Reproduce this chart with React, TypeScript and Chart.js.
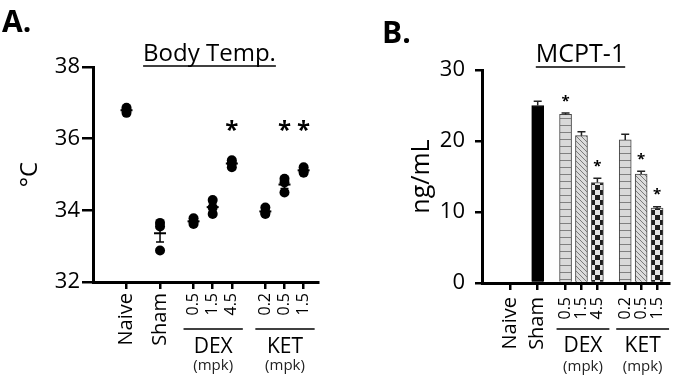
import React, { useEffect, useRef } from 'react';
import { Chart, registerables } from 'chart.js';

Chart.register(...registerables);

const FONT = "'Open Sans', 'Noto Sans', sans-serif";

// ---- categories ----
const categories = ['Naive', 'Sham', '0.5', '1.5', '4.5', '0.2', '0.5', '1.5'];
const groupIds = [0, 1, 2, 2, 2, 3, 3, 3];
const groupNames = ['', '', 'DEX', 'KET'];
const groupUnits = ['', '', '(mpk)', '(mpk)'];
const doseFlags = [false, false, true, true, true, true, true, true];

// ---- Panel A: body temperature (°C), three animals per group ----
const tempRep1 = [36.86, 33.65, 33.78, 34.29, 35.4, 34.08, 34.88, 35.2];
const tempRep2 = [36.8, 33.55, 33.68, 34.08, 35.32, 33.93, 34.78, 35.1];
const tempRep3 = [36.72, 32.88, 33.62, 33.9, 35.2, 33.9, 34.5, 35.05];
const tempSig = [false, false, false, false, true, false, true, true];
const tempTicks = [32, 34, 36, 38];
const TEMP_STAR_LEVEL = 36.4;

// ---- Panel B: MCPT-1 (ng/mL) mean and SEM ----
const mcptMean = [0, 25.0, 23.75, 20.75, 14.15, 20.15, 15.35, 10.55];
const mcptSem = [0, 0.6, 0.2, 0.55, 0.6, 0.8, 0.4, 0.2];
const mcptSig = [false, false, true, false, true, false, true, true];
const mcptTicks = [0, 10, 20, 30];

// bar fill styles (not data)
const barStyles = ['none', 'solid', 'stripe', 'diag', 'check', 'stripe', 'diag', 'check'];

// ---- slot layout on a category axis (spacer categories) ----
const LEAD = 7, STEP_IN = 4, STEP_GAP = 7, TRAIL = 3;
const slotOf: number[] = [];
{
  let pos = LEAD;
  categories.forEach((_, i) => {
    if (i > 0) pos += groupIds[i] === groupIds[i - 1] ? STEP_IN : STEP_GAP;
    slotOf.push(pos);
  });
}
const NSLOTS = slotOf[slotOf.length - 1] + TRAIL + 1;
const slotLabels: string[] = Array(NSLOTS).fill('');
slotOf.forEach((s, i) => (slotLabels[s] = categories[i]));
function pad<T>(vals: T[]): (T | null)[] {
  const arr: (T | null)[] = Array(NSLOTS).fill(null);
  slotOf.forEach((s, i) => (arr[s] = vals[i]));
  return arr;
}
function catAtSlot(idx: number) {
  return slotOf.indexOf(idx);
}

function xScaleOpts(tl: number, padding: number, height: number) {
  const col = (c: any) => (slotLabels[c.index] ? '#000' : 'rgba(0,0,0,0)');
  return {
    type: 'category',
    offset: false,
    grid: {
      offset: false,
      drawOnChartArea: false,
      drawTicks: true,
      tickLength: tl,
      lineWidth: 2.5,
      color: col,
      tickColor: col,
    },
    border: { display: true, color: '#000', width: 3 },
    ticks: {
      autoSkip: false,
      maxRotation: 90,
      minRotation: 90,
      padding,
      color: '#000',
      font: (c: any) => {
        const i = catAtSlot(c.index);
        return { family: FONT, size: i >= 0 && doseFlags[i] ? 16 : 20 };
      },
    },
    afterFit: (s: any) => {
      s.height = height;
    },
  };
}

function drawGroups(chart: any, lineDy: number, nameDy: number, unitDy: number, padL: number, padR: number) {
  const { ctx, chartArea } = chart;
  const x = chart.scales.x;
  groupNames.forEach((name, g) => {
    if (!name) return;
    const idx = categories.map((_, i) => i).filter((i) => groupIds[i] === g);
    const x0 = x.getPixelForValue(slotOf[idx[0]]) - padL;
    const x1 = x.getPixelForValue(slotOf[idx[idx.length - 1]]) + padR;
    ctx.save();
    ctx.strokeStyle = '#000';
    ctx.lineWidth = 1.5;
    ctx.beginPath();
    ctx.moveTo(x0, chartArea.bottom + lineDy);
    ctx.lineTo(x1, chartArea.bottom + lineDy);
    ctx.stroke();
    ctx.textAlign = 'center';
    ctx.textBaseline = 'alphabetic';
    ctx.fillStyle = '#000';
    ctx.font = `21px ${FONT}`;
    ctx.fillText(name, (x0 + x1) / 2, chartArea.bottom + nameDy);
    ctx.fillStyle = '#222';
    ctx.font = `15px ${FONT}`;
    ctx.fillText(groupUnits[g], (x0 + x1) / 2, chartArea.bottom + unitDy);
    ctx.restore();
  });
}

function drawTitle(ctx: CanvasRenderingContext2D, text: string, cx: number, baseline: number, size: number) {
  ctx.save();
  ctx.font = `${size}px ${FONT}`;
  ctx.fillStyle = '#000';
  ctx.textAlign = 'center';
  ctx.textBaseline = 'alphabetic';
  ctx.fillText(text, cx, baseline);
  const w = ctx.measureText(text).width;
  ctx.strokeStyle = '#000';
  ctx.lineWidth = 1.5;
  ctx.beginPath();
  ctx.moveTo(cx - w / 2, baseline + 5);
  ctx.lineTo(cx + w / 2, baseline + 5);
  ctx.stroke();
  ctx.restore();
}

function drawPanelLabel(ctx: CanvasRenderingContext2D, text: string, x: number, baseline: number) {
  ctx.save();
  ctx.font = `bold 30px ${FONT}`;
  ctx.fillStyle = '#000';
  ctx.textAlign = 'left';
  ctx.textBaseline = 'alphabetic';
  ctx.fillText(text, x, baseline);
  ctx.restore();
}

function drawStar(ctx: CanvasRenderingContext2D, cx: number, cy: number, size: number) {
  ctx.save();
  ctx.font = `bold ${size}px ${FONT}`;
  ctx.fillStyle = '#000';
  ctx.textAlign = 'center';
  ctx.textBaseline = 'alphabetic';
  ctx.fillText('*', cx, cy + 0.58 * size);
  ctx.restore();
}

const decorA = {
  id: 'decorA',
  afterDatasetsDraw(chart: any) {
    const { ctx } = chart;
    const x = chart.scales.x;
    const y = chart.scales.y;
    categories.forEach((_, i) => {
      const vals = [tempRep1[i], tempRep2[i], tempRep3[i]];
      const n = vals.length;
      const mean = vals.reduce((a, b) => a + b, 0) / n;
      const sd = Math.sqrt(vals.reduce((a, b) => a + (b - mean) * (b - mean), 0) / (n - 1));
      const sem = sd / Math.sqrt(n);
      const px = x.getPixelForValue(slotOf[i]);
      ctx.save();
      ctx.strokeStyle = '#000';
      ctx.lineWidth = 2;
      ctx.beginPath();
      ctx.moveTo(px - 6, y.getPixelForValue(mean));
      ctx.lineTo(px + 6, y.getPixelForValue(mean));
      ctx.stroke();
      ctx.lineWidth = 1.5;
      const yt = y.getPixelForValue(mean + sem);
      const yb = y.getPixelForValue(mean - sem);
      ctx.beginPath();
      ctx.moveTo(px, yt);
      ctx.lineTo(px, yb);
      ctx.moveTo(px - 4, yt);
      ctx.lineTo(px + 4, yt);
      ctx.moveTo(px - 4, yb);
      ctx.lineTo(px + 4, yb);
      ctx.stroke();
      ctx.restore();
      if (tempSig[i]) drawStar(ctx, px, y.getPixelForValue(TEMP_STAR_LEVEL), 24);
    });
  },
  afterDraw(chart: any) {
    const { ctx, chartArea } = chart;
    drawGroups(chart, 47, 71, 88, 10, 11);
    drawTitle(ctx, 'Body Temp.', (chartArea.left + chartArea.right) / 2 + 4, 61, 24);
    drawPanelLabel(ctx, 'A.', 2, 32);
  },
};

const decorB = {
  id: 'decorB',
  afterDatasetsDraw(chart: any) {
    const { ctx } = chart;
    const x = chart.scales.x;
    const y = chart.scales.y;
    categories.forEach((_, i) => {
      if (!mcptMean[i]) return;
      const px = x.getPixelForValue(slotOf[i]);
      const top = y.getPixelForValue(mcptMean[i]);
      const cap = y.getPixelForValue(mcptMean[i] + mcptSem[i]);
      ctx.save();
      ctx.strokeStyle = '#222';
      ctx.lineWidth = 1.5;
      ctx.beginPath();
      ctx.moveTo(px, top);
      ctx.lineTo(px, cap);
      ctx.moveTo(px - 4, cap);
      ctx.lineTo(px + 4, cap);
      ctx.stroke();
      ctx.restore();
      if (mcptSig[i]) drawStar(ctx, px, cap - 16, 15);
    });
  },
  afterDraw(chart: any) {
    const { ctx, chartArea } = chart;
    drawGroups(chart, 46, 69, 88, 9, 12);
    drawTitle(ctx, 'MCPT-1', (chartArea.left + chartArea.right) / 2 + 5, 62, 25);
    drawPanelLabel(ctx, 'B.', 32, 43);
  },
};

function makePattern(ctx: CanvasRenderingContext2D, kind: string): any {
  if (kind === 'solid') return '#000';
  if (kind === 'none') return 'rgba(0,0,0,0)';
  const c = document.createElement('canvas');
  const g = c.getContext('2d') as CanvasRenderingContext2D;
  if (kind === 'stripe') {
    c.width = 8;
    c.height = 7;
    g.fillStyle = '#d9d9d9';
    g.fillRect(0, 0, 8, 7);
    g.fillStyle = '#808080';
    g.fillRect(0, 6, 8, 1);
  } else if (kind === 'diag') {
    c.width = 5;
    c.height = 5;
    g.fillStyle = '#dcdcdc';
    g.fillRect(0, 0, 5, 5);
    g.strokeStyle = '#7a7a7a';
    g.lineWidth = 1;
    g.beginPath();
    for (let k = -1; k <= 1; k++) {
      g.moveTo(k * 5, 0);
      g.lineTo(k * 5 + 5, 5);
    }
    g.stroke();
  } else if (kind === 'check') {
    c.width = 10;
    c.height = 10;
    g.fillStyle = '#e6e6e6';
    g.fillRect(0, 0, 10, 10);
    g.fillStyle = '#1e1e1e';
    g.fillRect(0, 0, 5, 5);
    g.fillRect(5, 5, 5, 5);
  }
  return ctx.createPattern(c, 'repeat');
}

function configA(): any {
  const datasets = [tempRep1, tempRep2, tempRep3].map((rep, k) => ({
    label: `Animal ${k + 1}`,
    data: pad(rep),
    showLine: false,
    pointRadius: 5,
    pointHoverRadius: 5,
    pointBackgroundColor: '#000',
    pointBorderWidth: 0,
    borderColor: '#000',
    backgroundColor: '#000',
  }));
  return {
    type: 'line',
    data: { labels: slotLabels, datasets },
    options: {
      responsive: false,
      animation: false,
      layout: { padding: { top: 67, right: 32, left: 0, bottom: 0 } },
      plugins: { legend: { display: false }, tooltip: { enabled: false } },
      scales: {
        x: xScaleOpts(7, 4, 102),
        y: {
          min: tempTicks[0],
          max: tempTicks[tempTicks.length - 1],
          afterBuildTicks: (s: any) => {
            s.ticks = tempTicks.map((v) => ({ value: v }));
          },
          ticks: { padding: 2, color: '#000', font: { family: FONT, size: 22 } },
          grid: { drawOnChartArea: false, drawTicks: true, tickLength: 11, lineWidth: 2.5, color: '#000' },
          border: { display: true, color: '#000', width: 3 },
          title: {
            display: true,
            text: '°C',
            color: '#000',
            font: { family: FONT, size: 24 },
            padding: { top: 16, bottom: 0 },
          },
          afterFit: (s: any) => {
            s.width = 93;
          },
        },
      },
    },
    plugins: [decorA],
  };
}

function configB(ctx: CanvasRenderingContext2D): any {
  const fills = barStyles.map((k) => makePattern(ctx, k));
  return {
    type: 'bar',
    data: {
      labels: slotLabels,
      datasets: [
        {
          label: 'MCPT-1',
          data: pad(mcptMean),
          backgroundColor: pad(fills),
          borderColor: pad(barStyles.map((k) => (k === 'solid' ? '#000' : '#444'))),
          borderWidth: pad(barStyles.map((k) => (k === 'none' ? 0 : 1))),
          borderSkipped: 'start',
          barThickness: 12,
        },
      ],
    },
    options: {
      responsive: false,
      animation: false,
      layout: { padding: { top: 70, right: 3, left: 0, bottom: 0 } },
      plugins: { legend: { display: false }, tooltip: { enabled: false } },
      scales: {
        x: xScaleOpts(7, 7, 101),
        y: {
          min: mcptTicks[0],
          max: mcptTicks[mcptTicks.length - 1],
          afterBuildTicks: (s: any) => {
            s.ticks = mcptTicks.map((v) => ({ value: v }));
          },
          ticks: { padding: 10, color: '#000', font: { family: FONT, size: 22 } },
          grid: { drawOnChartArea: false, drawTicks: true, tickLength: 7, lineWidth: 2.5, color: '#000' },
          border: { display: true, color: '#000', width: 3 },
          title: {
            display: true,
            text: 'ng/mL',
            color: '#000',
            font: { family: FONT, size: 25 },
            padding: { top: 57, bottom: 0 },
          },
          afterFit: (s: any) => {
            s.width = 132;
          },
        },
      },
    },
    plugins: [decorB],
  };
}

export default function App() {
  const refA = useRef<HTMLCanvasElement>(null);
  const refB = useRef<HTMLCanvasElement>(null);
  useEffect(() => {
    const ca = refA.current as HTMLCanvasElement;
    const cb = refB.current as HTMLCanvasElement;
    const a = new Chart(ca, configA());
    const b = new Chart(cb, configB(cb.getContext('2d') as CanvasRenderingContext2D));
    return () => {
      a.destroy();
      b.destroy();
    };
  }, []);
  return (
    <div
      style={{
        position: 'absolute',
        left: 0,
        top: 0,
        width: 700,
        height: 384,
        background: '#fff',
        overflow: 'hidden',
      }}
    >
      <canvas ref={refA} width={350} height={384} style={{ position: 'absolute', left: 0, top: 0 }} />
      <canvas ref={refB} width={350} height={384} style={{ position: 'absolute', left: 350, top: 0 }} />
    </div>
  );
}
